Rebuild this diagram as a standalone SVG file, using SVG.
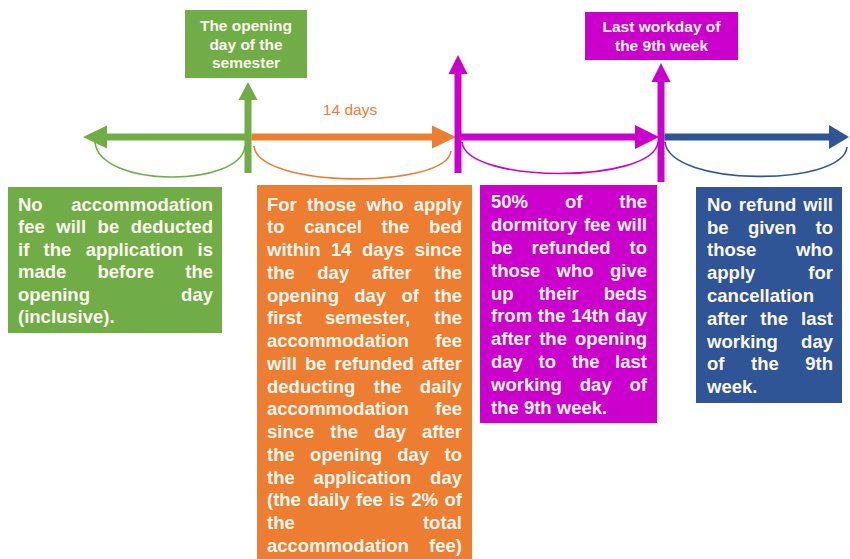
<svg xmlns="http://www.w3.org/2000/svg" width="850" height="559" viewBox="0 0 850 559">
<style>
.t{font-family:"Liberation Sans",Arial,sans-serif;font-weight:bold;font-size:18.5px;fill:#FBF7EF}
.h{font-family:"Liberation Sans",Arial,sans-serif;font-weight:bold;font-size:15.5px;fill:#FBF7EF;text-anchor:middle}
.e{text-anchor:end}
.g{fill:#70AD47}.o{fill:#ED7D31}.m{fill:#CC00CC}.b{fill:#2F5597}
.arc{fill:none;stroke-width:1.6}
</style>
<rect width="850" height="559" fill="#FFFFFF"/>
<g id="connectors">
  <!-- green -->
  <line x1="248" y1="137" x2="104" y2="137" stroke="#70AD47" stroke-width="7"/>
  <polygon points="83,137 107,125.5 107,148.5" fill="#70AD47"/>
  <line x1="248" y1="173" x2="248" y2="98" stroke="#70AD47" stroke-width="7"/>
  <polygon points="248,82 238.5,100 257.5,100" fill="#70AD47"/>
  <path class="arc" stroke="#70AD47" d="M95,142 C99,188 241,188 245,146"/>
  <!-- orange -->
  <line x1="251.5" y1="137" x2="434" y2="137" stroke="#ED7D31" stroke-width="7"/>
  <polygon points="456,137 432,125.5 432,148.5" fill="#ED7D31"/>
  <path class="arc" stroke="#ED7D31" d="M254,146 C258,189 447,189 451,151"/>
  <text x="350" y="115" font-family="'Liberation Sans',Arial,sans-serif" font-size="15.5" fill="#ED7D31" text-anchor="middle">14 days</text>
  <!-- magenta -->
  <line x1="458" y1="173" x2="458" y2="72" stroke="#CC00CC" stroke-width="7"/>
  <polygon points="458,55 448.5,74 467.5,74" fill="#CC00CC"/>
  <line x1="458" y1="137" x2="638" y2="137" stroke="#CC00CC" stroke-width="7"/>
  <polygon points="659,137 635,125 635,149" fill="#CC00CC"/>
  <line x1="661" y1="182" x2="661" y2="80" stroke="#CC00CC" stroke-width="7"/>
  <polygon points="661,63 651.5,82 670.5,82" fill="#CC00CC"/>
  <path class="arc" stroke="#CC00CC" d="M462,142 C466,184 654,184 658,142"/>
  <!-- blue -->
  <line x1="664.5" y1="137" x2="832" y2="137" stroke="#2F5597" stroke-width="7"/>
  <polygon points="849,137 829,125 829,149" fill="#2F5597"/>
  <path class="arc" stroke="#2F5597" d="M665,142 C670,187 843,187 847,147"/>
</g>
<g id="title-opening">
  <rect class="g" x="185" y="10" width="122" height="68"/>
  <text class="h" x="246" y="31">The opening</text>
  <text class="h" x="246" y="49.5">day of the</text>
  <text class="h" x="246" y="68">semester</text>
</g>
<g id="title-lastday">
  <rect class="m" x="585" y="12" width="153" height="48"/>
  <text class="h" x="661.5" y="32">Last workday of</text>
  <text class="h" x="661.5" y="51">the 9th week</text>
</g>
<g id="box-green">
  <rect class="g" x="8" y="187" width="214" height="146"/>
  <text class="t" y="210.5"><tspan x="18">No</tspan><tspan x="213" class="e">accommodation</tspan></text>
  <text class="t" y="233"><tspan x="18">fee</tspan><tspan x="56.3">will</tspan><tspan x="97.6">be</tspan><tspan x="213" class="e">deducted</tspan></text>
  <text class="t" y="255.5"><tspan x="18">if</tspan><tspan x="43.6">the</tspan><tspan x="85.7">application</tspan><tspan x="213" class="e">is</tspan></text>
  <text class="t" y="278"><tspan x="18">made</tspan><tspan x="97.5">before</tspan><tspan x="213" class="e">the</tspan></text>
  <text class="t" y="300.5"><tspan x="18">opening</tspan><tspan x="213" class="e">day</tspan></text>
  <text class="t" y="323"><tspan x="18">(inclusive).</tspan></text>
</g>
<g id="box-orange">
  <rect class="o" x="257" y="185" width="215" height="374"/>
  <text class="t" y="210.7"><tspan x="267">For</tspan><tspan x="307">those</tspan><tspan x="366.5">who</tspan><tspan x="462" class="e">apply</tspan></text>
  <text class="t" y="233.4"><tspan x="267">to</tspan><tspan x="304.3">cancel</tspan><tspan x="381.6">the</tspan><tspan x="462" class="e">bed</tspan></text>
  <text class="t" y="256.2"><tspan x="267">within</tspan><tspan x="330.9">14</tspan><tspan x="362">days</tspan><tspan x="462" class="e">since</tspan></text>
  <text class="t" y="278.9"><tspan x="267">the</tspan><tspan x="317.3">day</tspan><tspan x="371.7">after</tspan><tspan x="462" class="e">the</tspan></text>
  <text class="t" y="301.6"><tspan x="267">opening</tspan><tspan x="354.2">day</tspan><tspan x="401.4">of</tspan><tspan x="462" class="e">the</tspan></text>
  <text class="t" y="324.4"><tspan x="267">first</tspan><tspan x="324.9">semester,</tspan><tspan x="462" class="e">the</tspan></text>
  <text class="t" y="347.1"><tspan x="267">accommodation</tspan><tspan x="462" class="e">fee</tspan></text>
  <text class="t" y="369.8"><tspan x="267">will</tspan><tspan x="304.9">be</tspan><tspan x="334.6">refunded</tspan><tspan x="462" class="e">after</tspan></text>
  <text class="t" y="392.5"><tspan x="267">deducting</tspan><tspan x="373.8">the</tspan><tspan x="462" class="e">daily</tspan></text>
  <text class="t" y="415.3"><tspan x="267">accommodation</tspan><tspan x="462" class="e">fee</tspan></text>
  <text class="t" y="438"><tspan x="267">since</tspan><tspan x="330.3">the</tspan><tspan x="374.1">day</tspan><tspan x="462" class="e">after</tspan></text>
  <text class="t" y="460.7"><tspan x="267">the</tspan><tspan x="310.1">opening</tspan><tspan x="397.3">day</tspan><tspan x="462" class="e">to</tspan></text>
  <text class="t" y="483.5"><tspan x="267">the</tspan><tspan x="313.6">application</tspan><tspan x="462" class="e">day</tspan></text>
  <text class="t" y="506.2"><tspan x="267">(the</tspan><tspan x="307.4">daily</tspan><tspan x="356.1">fee</tspan><tspan x="389.3">is</tspan><tspan x="411.2">2%</tspan><tspan x="462" class="e">of</tspan></text>
  <text class="t" y="528.9"><tspan x="267">the</tspan><tspan x="462" class="e">total</tspan></text>
  <text class="t" y="551.7"><tspan x="267">accommodation</tspan><tspan x="462" class="e">fee)</tspan></text>
</g>
<g id="box-magenta">
  <rect class="m" x="480" y="185" width="177" height="238"/>
  <text class="t" y="208.3"><tspan x="491">50%</tspan><tspan x="564.9">of</tspan><tspan x="647" class="e">the</tspan></text>
  <text class="t" y="231.1"><tspan x="491">dormitory</tspan><tspan x="583.9">fee</tspan><tspan x="647" class="e">will</tspan></text>
  <text class="t" y="253.9"><tspan x="491">be</tspan><tspan x="531.5">refunded</tspan><tspan x="647" class="e">to</tspan></text>
  <text class="t" y="276.7"><tspan x="491">those</tspan><tspan x="556.6">who</tspan><tspan x="647" class="e">give</tspan></text>
  <text class="t" y="299.5"><tspan x="491">up</tspan><tspan x="538.7">their</tspan><tspan x="647" class="e">beds</tspan></text>
  <text class="t" y="322.3"><tspan x="491">from</tspan><tspan x="537.8">the</tspan><tspan x="571.3">14th</tspan><tspan x="647" class="e">day</tspan></text>
  <text class="t" y="345.1"><tspan x="491">after</tspan><tspan x="539.2">the</tspan><tspan x="647" class="e">opening</tspan></text>
  <text class="t" y="367.9"><tspan x="491">day</tspan><tspan x="538.6">to</tspan><tspan x="571.8">the</tspan><tspan x="647" class="e">last</tspan></text>
  <text class="t" y="390.7"><tspan x="491">working</tspan><tspan x="579.8">day</tspan><tspan x="647" class="e">of</tspan></text>
  <text class="t" y="413.5"><tspan x="491">the 9th week.</tspan></text>
</g>
<g id="box-blue">
  <rect class="b" x="696" y="187" width="146" height="216"/>
  <text class="t" y="210.7"><tspan x="707">No</tspan><tspan x="738.7">refund</tspan><tspan x="833" class="e">will</tspan></text>
  <text class="t" y="233.5"><tspan x="707">be</tspan><tspan x="747.9">given</tspan><tspan x="833" class="e">to</tspan></text>
  <text class="t" y="256.3"><tspan x="707">those</tspan><tspan x="833" class="e">who</tspan></text>
  <text class="t" y="279.1"><tspan x="707">apply</tspan><tspan x="833" class="e">for</tspan></text>
  <text class="t" y="301.9"><tspan x="707">cancellation</tspan></text>
  <text class="t" y="324.7"><tspan x="707">after</tspan><tspan x="760.3">the</tspan><tspan x="833" class="e">last</tspan></text>
  <text class="t" y="347.5"><tspan x="707">working</tspan><tspan x="833" class="e">day</tspan></text>
  <text class="t" y="370.3"><tspan x="707">of</tspan><tspan x="751">the</tspan><tspan x="833" class="e">9th</tspan></text>
  <text class="t" y="393.1"><tspan x="707">week.</tspan></text>
</g>
</svg>
